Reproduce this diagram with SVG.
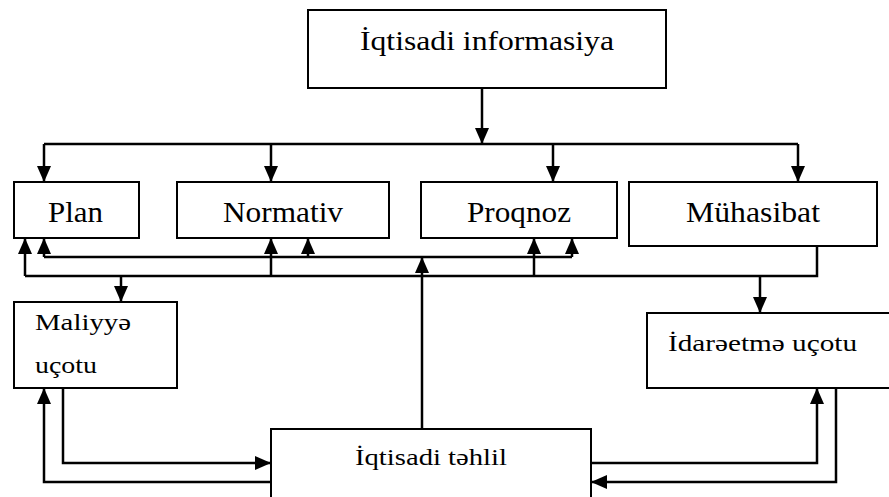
<svg xmlns="http://www.w3.org/2000/svg" width="889" height="497" viewBox="0 0 889 497">
<style>
.box{fill:#fff;stroke:#000;stroke-width:2}
.t{font-family:"Liberation Serif","Times New Roman",serif;fill:#000}
.c{fill:none;stroke:#000;stroke-width:2.5}
</style>
<defs>
<marker id="ah" markerUnits="userSpaceOnUse" markerWidth="16" markerHeight="16" viewBox="0 0 16 14" refX="16" refY="7" orient="auto">
<path d="M0,0 L16,7 L0,14 Z" fill="#000"/>
</marker>
</defs>
<rect width="889" height="497" fill="#fff"/>
<g id="connectors">
<path class="c" d="M482,88 V144" marker-end="url(#ah)"/>
<path class="c" d="M44,144 H798"/>
<path class="c" d="M44,144 V182" marker-end="url(#ah)"/>
<path class="c" d="M271,144 V182" marker-end="url(#ah)"/>
<path class="c" d="M553,144 V182" marker-end="url(#ah)"/>
<path class="c" d="M798,144 V182" marker-end="url(#ah)"/>
<path class="c" d="M44,257 H572"/>
<path class="c" d="M44,257 V238" marker-end="url(#ah)"/>
<path class="c" d="M308,257 V238" marker-end="url(#ah)"/>
<path class="c" d="M572,257 V238" marker-end="url(#ah)"/>
<path class="c" d="M817,246 V276 H25"/>
<path class="c" d="M25,276 V238" marker-end="url(#ah)"/>
<path class="c" d="M271,276 V238" marker-end="url(#ah)"/>
<path class="c" d="M534,276 V238" marker-end="url(#ah)"/>
<path class="c" d="M121,276 V302" marker-end="url(#ah)"/>
<path class="c" d="M760,276 V313" marker-end="url(#ah)"/>
<path class="c" d="M422,429 V257" marker-end="url(#ah)"/>
<path class="c" d="M63,388 V463 H271" marker-end="url(#ah)"/>
<path class="c" d="M271,482 H44 V388" marker-end="url(#ah)"/>
<path class="c" d="M591,463 H817 V388" marker-end="url(#ah)"/>
<path class="c" d="M836,388 V482 H591" marker-end="url(#ah)"/>
</g>
<g id="informasiya">
<rect class="box" x="308" y="10" width="358" height="78"/>
<text class="t" x="487" y="50" font-size="28" text-anchor="middle" textLength="254" lengthAdjust="spacingAndGlyphs">İqtisadi informasiya</text>
</g>
<g id="plan">
<rect class="box" x="14" y="182" width="125" height="56"/>
<text class="t" x="48" y="222" font-size="30" textLength="55" lengthAdjust="spacingAndGlyphs">Plan</text>
</g>
<g id="normativ">
<rect class="box" x="177" y="182" width="212" height="56"/>
<text class="t" x="223" y="222" font-size="30" textLength="120" lengthAdjust="spacingAndGlyphs">Normativ</text>
</g>
<g id="proqnoz">
<rect class="box" x="421" y="182" width="196" height="56"/>
<text class="t" x="467" y="222" font-size="30" textLength="104" lengthAdjust="spacingAndGlyphs">Proqnoz</text>
</g>
<g id="muhasibat">
<rect class="box" x="629" y="182" width="248" height="64"/>
<text class="t" x="686" y="222" font-size="30" textLength="134" lengthAdjust="spacingAndGlyphs">Mühasibat</text>
</g>
<g id="maliyye">
<rect class="box" x="14" y="302" width="163" height="86"/>
<text class="t" x="35" y="330" font-size="23" textLength="96" lengthAdjust="spacingAndGlyphs">Maliyyə</text>
<text class="t" x="35" y="373" font-size="23" textLength="62" lengthAdjust="spacingAndGlyphs">uçotu</text>
</g>
<g id="idareetme">
<rect class="box" x="647" y="313" width="260" height="75"/>
<text class="t" x="668" y="351" font-size="23" textLength="189" lengthAdjust="spacingAndGlyphs">İdarəetmə uçotu</text>
</g>
<g id="tehlil">
<rect class="box" x="271" y="429" width="320" height="90"/>
<text class="t" x="355" y="465" font-size="24" textLength="152" lengthAdjust="spacingAndGlyphs">İqtisadi təhlil</text>
</g>
</svg>
